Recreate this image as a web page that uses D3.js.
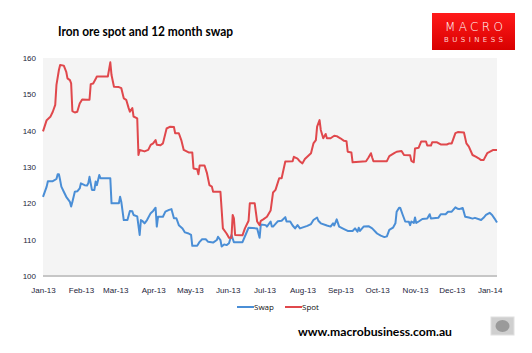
<!DOCTYPE html>
<html>
<head>
<meta charset="utf-8">
<script src="https://cdn.jsdelivr.net/npm/d3@7"></script>
<style>
  body { margin: 0; background: #fff; }
  svg { display: block; font-family: "Open Sans", "DejaVu Sans", sans-serif; }
  .axis text { font-size: 8px; fill: #1d1d3a; }
</style>
</head>
<body>
<div id="chart"></div>
<script>
// Iron ore spot and 12 month swap (US$/t)

const seriesNames = ["Swap", "Spot"];
const seriesColors = ["#4a8ed6", "#e0484c"];
const yTicks = [100, 110, 120, 130, 140, 150, 160];
const monthTicks = ["2013-01-01", "2013-02-01", "2013-03-01", "2013-04-01", "2013-05-01", "2013-06-01",
  "2013-07-01", "2013-08-01", "2013-09-01", "2013-10-01", "2013-11-01", "2013-12-01", "2014-01-01"];

const swapData = [
  ["2013-01-01", 121.8], ["2013-01-04", 124.6], ["2013-01-05", 126.1], ["2013-01-09", 126.1],
  ["2013-01-12", 126.7], ["2013-01-13", 128], ["2013-01-14", 128], ["2013-01-15", 126.4],
  ["2013-01-16", 124.6], ["2013-01-18", 123.2], ["2013-01-20", 121.8], ["2013-01-23", 120.4],
  ["2013-01-24", 119.1], ["2013-01-25", 120.4], ["2013-01-27", 123.2], ["2013-01-29", 123.3],
  ["2013-01-31", 124.1], ["2013-02-01", 125.5], ["2013-02-04", 125], ["2013-02-06", 124.9],
  ["2013-02-07", 125.5], ["2013-02-08", 127.3], ["2013-02-10", 123.7], ["2013-02-12", 123.7],
  ["2013-02-13", 126], ["2013-02-14", 125], ["2013-02-16", 127.8], ["2013-02-17", 126.9],
  ["2013-02-25", 126.9], ["2013-02-26", 120], ["2013-03-04", 120], ["2013-03-05", 121.8],
  ["2013-03-06", 120.4], ["2013-03-08", 115.4], ["2013-03-11", 115.4], ["2013-03-13", 117.9],
  ["2013-03-15", 117.8], ["2013-03-16", 116.8], ["2013-03-19", 116.4], ["2013-03-21", 111.3],
  ["2013-03-22", 115.4], ["2013-03-23", 115.2], ["2013-03-25", 114.5], ["2013-03-27", 115.4],
  ["2013-03-30", 117.3], ["2013-04-01", 117.9], ["2013-04-03", 118.8], ["2013-04-04", 113.6],
  ["2013-04-05", 116.3], ["2013-04-09", 116.3], ["2013-04-11", 117.7], ["2013-04-14", 118.2],
  ["2013-04-16", 118.4], ["2013-04-18", 115.9], ["2013-04-20", 115.9], ["2013-04-22", 114],
  ["2013-04-25", 113.1], ["2013-04-27", 112], ["2013-04-30", 111.7], ["2013-05-02", 111.3],
  ["2013-05-03", 108.3], ["2013-05-07", 108.3], ["2013-05-09", 109.4], ["2013-05-11", 110.1],
  ["2013-05-14", 110.1], ["2013-05-16", 109.4], ["2013-05-20", 109.2], ["2013-05-23", 109.9],
  ["2013-05-24", 110.8], ["2013-05-26", 109.9], ["2013-05-27", 108.1], ["2013-05-29", 108.7],
  ["2013-05-31", 108.5], ["2013-06-02", 109], ["2013-06-04", 111.3], ["2013-06-06", 109.3],
  ["2013-06-13", 109.3], ["2013-06-16", 111.7], ["2013-06-18", 113.3], ["2013-06-25", 113.1],
  ["2013-06-27", 110.5], ["2013-06-28", 114.2], ["2013-07-02", 114], ["2013-07-03", 113.6],
  ["2013-07-06", 115], ["2013-07-07", 113.6], ["2013-07-08", 113.6], ["2013-07-12", 115.1],
  ["2013-07-15", 115.2], ["2013-07-18", 116.2], ["2013-07-19", 115], ["2013-07-22", 115],
  ["2013-07-24", 113.9], ["2013-07-26", 113.1], ["2013-07-28", 114], ["2013-07-30", 113.1],
  ["2013-08-05", 113.8], ["2013-08-08", 114.3], ["2013-08-10", 115.4], ["2013-08-13", 116.1],
  ["2013-08-14", 115.2], ["2013-08-16", 114.5], ["2013-08-21", 113.9], ["2013-08-24", 113.6],
  ["2013-08-26", 114.5], ["2013-08-27", 113.9], ["2013-08-29", 115.6], ["2013-08-31", 113.6],
  ["2013-09-04", 112.9], ["2013-09-07", 112.4], ["2013-09-11", 112.4], ["2013-09-13", 113.1],
  ["2013-09-15", 112.2], ["2013-09-16", 113.3], ["2013-09-17", 112.4], ["2013-09-20", 113.6],
  ["2013-09-24", 113.7], ["2013-09-27", 113.1], ["2013-10-01", 111.7], ["2013-10-04", 111.1],
  ["2013-10-07", 110.7], ["2013-10-09", 110.9], ["2013-10-11", 112.7], ["2013-10-14", 113.3],
  ["2013-10-16", 114.5], ["2013-10-17", 117.7], ["2013-10-19", 118.8], ["2013-10-20", 118.7],
  ["2013-10-22", 116.8], ["2013-10-24", 115], ["2013-10-27", 114.9], ["2013-10-28", 114],
  ["2013-10-29", 115], ["2013-10-31", 114.6], ["2013-11-01", 116.1], ["2013-11-02", 114.6],
  ["2013-11-04", 115], ["2013-11-07", 115.7], ["2013-11-11", 115.8], ["2013-11-13", 117],
  ["2013-11-14", 115.8], ["2013-11-20", 116], ["2013-11-22", 117], ["2013-11-26", 117],
  ["2013-11-28", 117.7], ["2013-12-01", 117.7], ["2013-12-04", 118.9], ["2013-12-06", 118.5],
  ["2013-12-07", 118.4], ["2013-12-10", 118.7], ["2013-12-12", 116.3], ["2013-12-15", 116.1],
  ["2013-12-18", 115.8], ["2013-12-20", 116], ["2013-12-25", 115.4], ["2013-12-27", 116],
  ["2013-12-29", 116.8], ["2014-01-01", 117.4], ["2014-01-03", 116.8], ["2014-01-05", 115.8],
  ["2014-01-07", 114.7]
];

const spotData = [
  ["2013-01-01", 139.8], ["2013-01-04", 142.9], ["2013-01-07", 143.8], ["2013-01-09", 145.2],
  ["2013-01-11", 147.1], ["2013-01-12", 152.6], ["2013-01-14", 156.7], ["2013-01-15", 158.1],
  ["2013-01-18", 157.9], ["2013-01-20", 156.2], ["2013-01-21", 154.4], ["2013-01-23", 153.9],
  ["2013-01-24", 153], ["2013-01-25", 145.4], ["2013-01-27", 145], ["2013-01-29", 145.2],
  ["2013-01-31", 147.5], ["2013-02-02", 148.6], ["2013-02-06", 148.5], ["2013-02-08", 148.5],
  ["2013-02-09", 152.8], ["2013-02-11", 153], ["2013-02-13", 154.2], ["2013-02-14", 154.9],
  ["2013-02-18", 154.9], ["2013-02-23", 154.9], ["2013-02-25", 158.8], ["2013-02-26", 155.3],
  ["2013-02-28", 152.1], ["2013-03-04", 152], ["2013-03-06", 151.7], ["2013-03-08", 148.9],
  ["2013-03-10", 148.5], ["2013-03-12", 146.2], ["2013-03-13", 145.2], ["2013-03-15", 146.2],
  ["2013-03-16", 143.9], ["2013-03-19", 143.4], ["2013-03-20", 133.3], ["2013-03-21", 134.7],
  ["2013-03-25", 134.3], ["2013-03-28", 134.7], ["2013-03-30", 136.1], ["2013-04-01", 136.5],
  ["2013-04-03", 137.4], ["2013-04-04", 136.1], ["2013-04-07", 136], ["2013-04-09", 136.5],
  ["2013-04-12", 140.6], ["2013-04-15", 141.1], ["2013-04-18", 141], ["2013-04-19", 139.3],
  ["2013-04-22", 139.3], ["2013-04-24", 137.4], ["2013-04-26", 134.7], ["2013-04-30", 134],
  ["2013-05-03", 134], ["2013-05-04", 129.6], ["2013-05-07", 129.4], ["2013-05-08", 128],
  ["2013-05-09", 130.4], ["2013-05-13", 130.4], ["2013-05-15", 128.3], ["2013-05-17", 125],
  ["2013-05-19", 124.6], ["2013-05-20", 123.2], ["2013-05-26", 123.2], ["2013-05-27", 118.2],
  ["2013-05-28", 113.1], ["2013-05-31", 111.7], ["2013-06-02", 110.5], ["2013-06-04", 110.5],
  ["2013-06-05", 116.8], ["2013-06-06", 115.9], ["2013-06-07", 111.3], ["2013-06-13", 111.2],
  ["2013-06-15", 113.1], ["2013-06-18", 115.2], ["2013-06-19", 120], ["2013-06-23", 120],
  ["2013-06-25", 115], ["2013-06-27", 114], ["2013-06-28", 115.2], ["2013-06-30", 115.6],
  ["2013-07-03", 116.3], ["2013-07-06", 118], ["2013-07-08", 123], ["2013-07-10", 123.7],
  ["2013-07-13", 126.9], ["2013-07-15", 126.9], ["2013-07-18", 131.5], ["2013-07-24", 131.6],
  ["2013-07-25", 132.8], ["2013-07-28", 132.3], ["2013-07-30", 131.5], ["2013-08-01", 131],
  ["2013-08-03", 132.2], ["2013-08-08", 133.8], ["2013-08-10", 136.5], ["2013-08-12", 137.4],
  ["2013-08-13", 141.1], ["2013-08-15", 142.9], ["2013-08-16", 140.2], ["2013-08-18", 137.9],
  ["2013-08-20", 139.1], ["2013-08-21", 137.9], ["2013-08-24", 137.9], ["2013-08-27", 138.6],
  ["2013-08-29", 138.5], ["2013-09-01", 137.9], ["2013-09-04", 137.2], ["2013-09-06", 137.1],
  ["2013-09-07", 134.2], ["2013-09-10", 134], ["2013-09-11", 131.3], ["2013-09-22", 131.6],
  ["2013-09-24", 132.6], ["2013-09-26", 133.8], ["2013-09-27", 132.6], ["2013-09-28", 131.6],
  ["2013-10-09", 131.6], ["2013-10-11", 133], ["2013-10-15", 133.8], ["2013-10-17", 134.2],
  ["2013-10-21", 134.4], ["2013-10-23", 133.3], ["2013-10-28", 133.2], ["2013-10-29", 131.7],
  ["2013-10-31", 131.3], ["2013-11-01", 135.1], ["2013-11-04", 135.3], ["2013-11-06", 137],
  ["2013-11-10", 137], ["2013-11-11", 135.9], ["2013-11-14", 135.9], ["2013-11-15", 136.8],
  ["2013-11-19", 136.8], ["2013-11-22", 136.2], ["2013-11-27", 136.2], ["2013-11-29", 136.5],
  ["2013-12-01", 136.5], ["2013-12-04", 139.3], ["2013-12-06", 139.6], ["2013-12-11", 139.5],
  ["2013-12-13", 136.5], ["2013-12-15", 135.6], ["2013-12-18", 133.3], ["2013-12-21", 132.8],
  ["2013-12-23", 132.4], ["2013-12-25", 131.9], ["2013-12-27", 131.9], ["2013-12-30", 133.8],
  ["2014-01-04", 134.7], ["2014-01-07", 134.7]
];

function createChart() {
    const W = 532, H = 353;
    const plot = { left: 43, right: 497, top: 58, bottom: 276 };
    const parse = d3.timeParse("%Y-%m-%d");

    const svg = d3.select("#chart")
        .append("svg")
        .attr("width", W)
        .attr("height", H);

    // Échelles
    const x = d3.scaleTime()
        .domain([parse("2013-01-01"), parse("2014-01-07")])
        .range([plot.left, plot.right]);

    const y = d3.scaleLinear()
        .domain([100, 160])
        .range([plot.bottom, plot.top]);

    // Fond de la zone de tracé
    svg.append("rect")
        .attr("x", plot.left)
        .attr("y", plot.top)
        .attr("width", plot.right - plot.left)
        .attr("height", plot.bottom - plot.top)
        .attr("fill", "#f4f4f4");

    // Titre
    svg.append("text")
        .attr("x", 58)
        .attr("y", 36)
        .attr("textLength", 175)
        .attr("lengthAdjust", "spacingAndGlyphs")
        .style("font-family", "Lato, 'Open Sans', sans-serif")
        .style("font-size", "13px")
        .style("font-weight", "bold")
        .attr("fill", "#000")
        .text("Iron ore spot and 12 month swap");

    // Logo MacroBusiness
    const grad = svg.append("defs").append("linearGradient")
        .attr("id", "logoGrad")
        .attr("x1", 0).attr("y1", 0).attr("x2", 0).attr("y2", 1);
    grad.append("stop").attr("offset", "0%").attr("stop-color", "#ff1a1a");
    grad.append("stop").attr("offset", "100%").attr("stop-color", "#d80000");

    const logo = svg.append("g").attr("transform", "translate(432,13)");
    logo.append("rect")
        .attr("width", 83)
        .attr("height", 37)
        .attr("fill", "url(#logoGrad)");
    logo.append("text")
        .attr("x", 13)
        .attr("y", 18)
        .attr("textLength", 58)
        .attr("lengthAdjust", "spacing")
        .attr("fill", "#fff")
        .style("font-family", "'DejaVu Sans', sans-serif")
        .style("font-size", "12px")
        .style("font-weight", "300")
        .text("MACRO");
    logo.append("text")
        .attr("x", 12)
        .attr("y", 29)
        .attr("textLength", 59)
        .attr("lengthAdjust", "spacing")
        .attr("fill", "#ffd0d0")
        .style("font-family", "'DejaVu Sans', sans-serif")
        .style("font-size", "7px")
        .text("BUSINESS");

    // Axe Y
    svg.append("g")
        .attr("class", "axis y-axis")
        .attr("transform", `translate(${plot.left - 7},0)`)
        .call(d3.axisLeft(y).tickValues(yTicks).tickSize(0).tickPadding(0))
        .call(g => g.select(".domain").remove());

    // Axe X
    svg.append("g")
        .attr("class", "axis x-axis")
        .attr("transform", `translate(0,${plot.bottom})`)
        .call(d3.axisBottom(x)
            .tickValues(monthTicks.map(parse))
            .tickFormat(d3.timeFormat("%b-%y"))
            .tickSize(0)
            .tickPadding(11))
        .call(g => g.select(".domain").remove());

    svg.append("line")
        .attr("x1", plot.left)
        .attr("x2", plot.right)
        .attr("y1", plot.bottom)
        .attr("y2", plot.bottom)
        .attr("stroke", "#c6c6c6")
        .attr("stroke-width", 2);

    // Courbes
    const line = d3.line()
        .x(d => x(parse(d[0])))
        .y(d => y(d[1]));

    [swapData, spotData].forEach((data, i) => {
        svg.append("path")
            .datum(data)
            .attr("fill", "none")
            .attr("stroke", seriesColors[i])
            .attr("stroke-width", 2)
            .attr("stroke-linejoin", "round")
            .attr("d", line);
    });

    // Légende
    const legendX = [237, 285];
    seriesNames.forEach((name, i) => {
        const g = svg.append("g").attr("transform", `translate(${legendX[i]},307)`);
        g.append("line")
            .attr("x1", 0).attr("x2", 17)
            .attr("stroke", seriesColors[i])
            .attr("stroke-width", 2);
        g.append("text")
            .attr("x", 17)
            .attr("y", 3)
            .style("font-size", "8px")
            .attr("fill", "#111")
            .text(name);
    });

    // Source
    svg.append("text")
        .attr("x", 298)
        .attr("y", 336)
        .attr("textLength", 154)
        .attr("lengthAdjust", "spacingAndGlyphs")
        .style("font-family", "Lato, 'Open Sans', sans-serif")
        .style("font-size", "12px")
        .style("font-weight", "bold")
        .attr("fill", "#000")
        .text("www.macrobusiness.com.au");

    // Petite icône (loup)
    const icon = svg.append("g").attr("transform", "translate(491,317)");
    icon.append("rect")
        .attr("width", 23).attr("height", 18)
        .attr("fill", "#cfcfcf")
        .attr("stroke", "#e0e0e0");
    icon.append("ellipse")
        .attr("cx", 11.5).attr("cy", 9)
        .attr("rx", 7).attr("ry", 6)
        .attr("fill", "#9a9a9a");
}

createChart();
</script>
</body>
</html>
